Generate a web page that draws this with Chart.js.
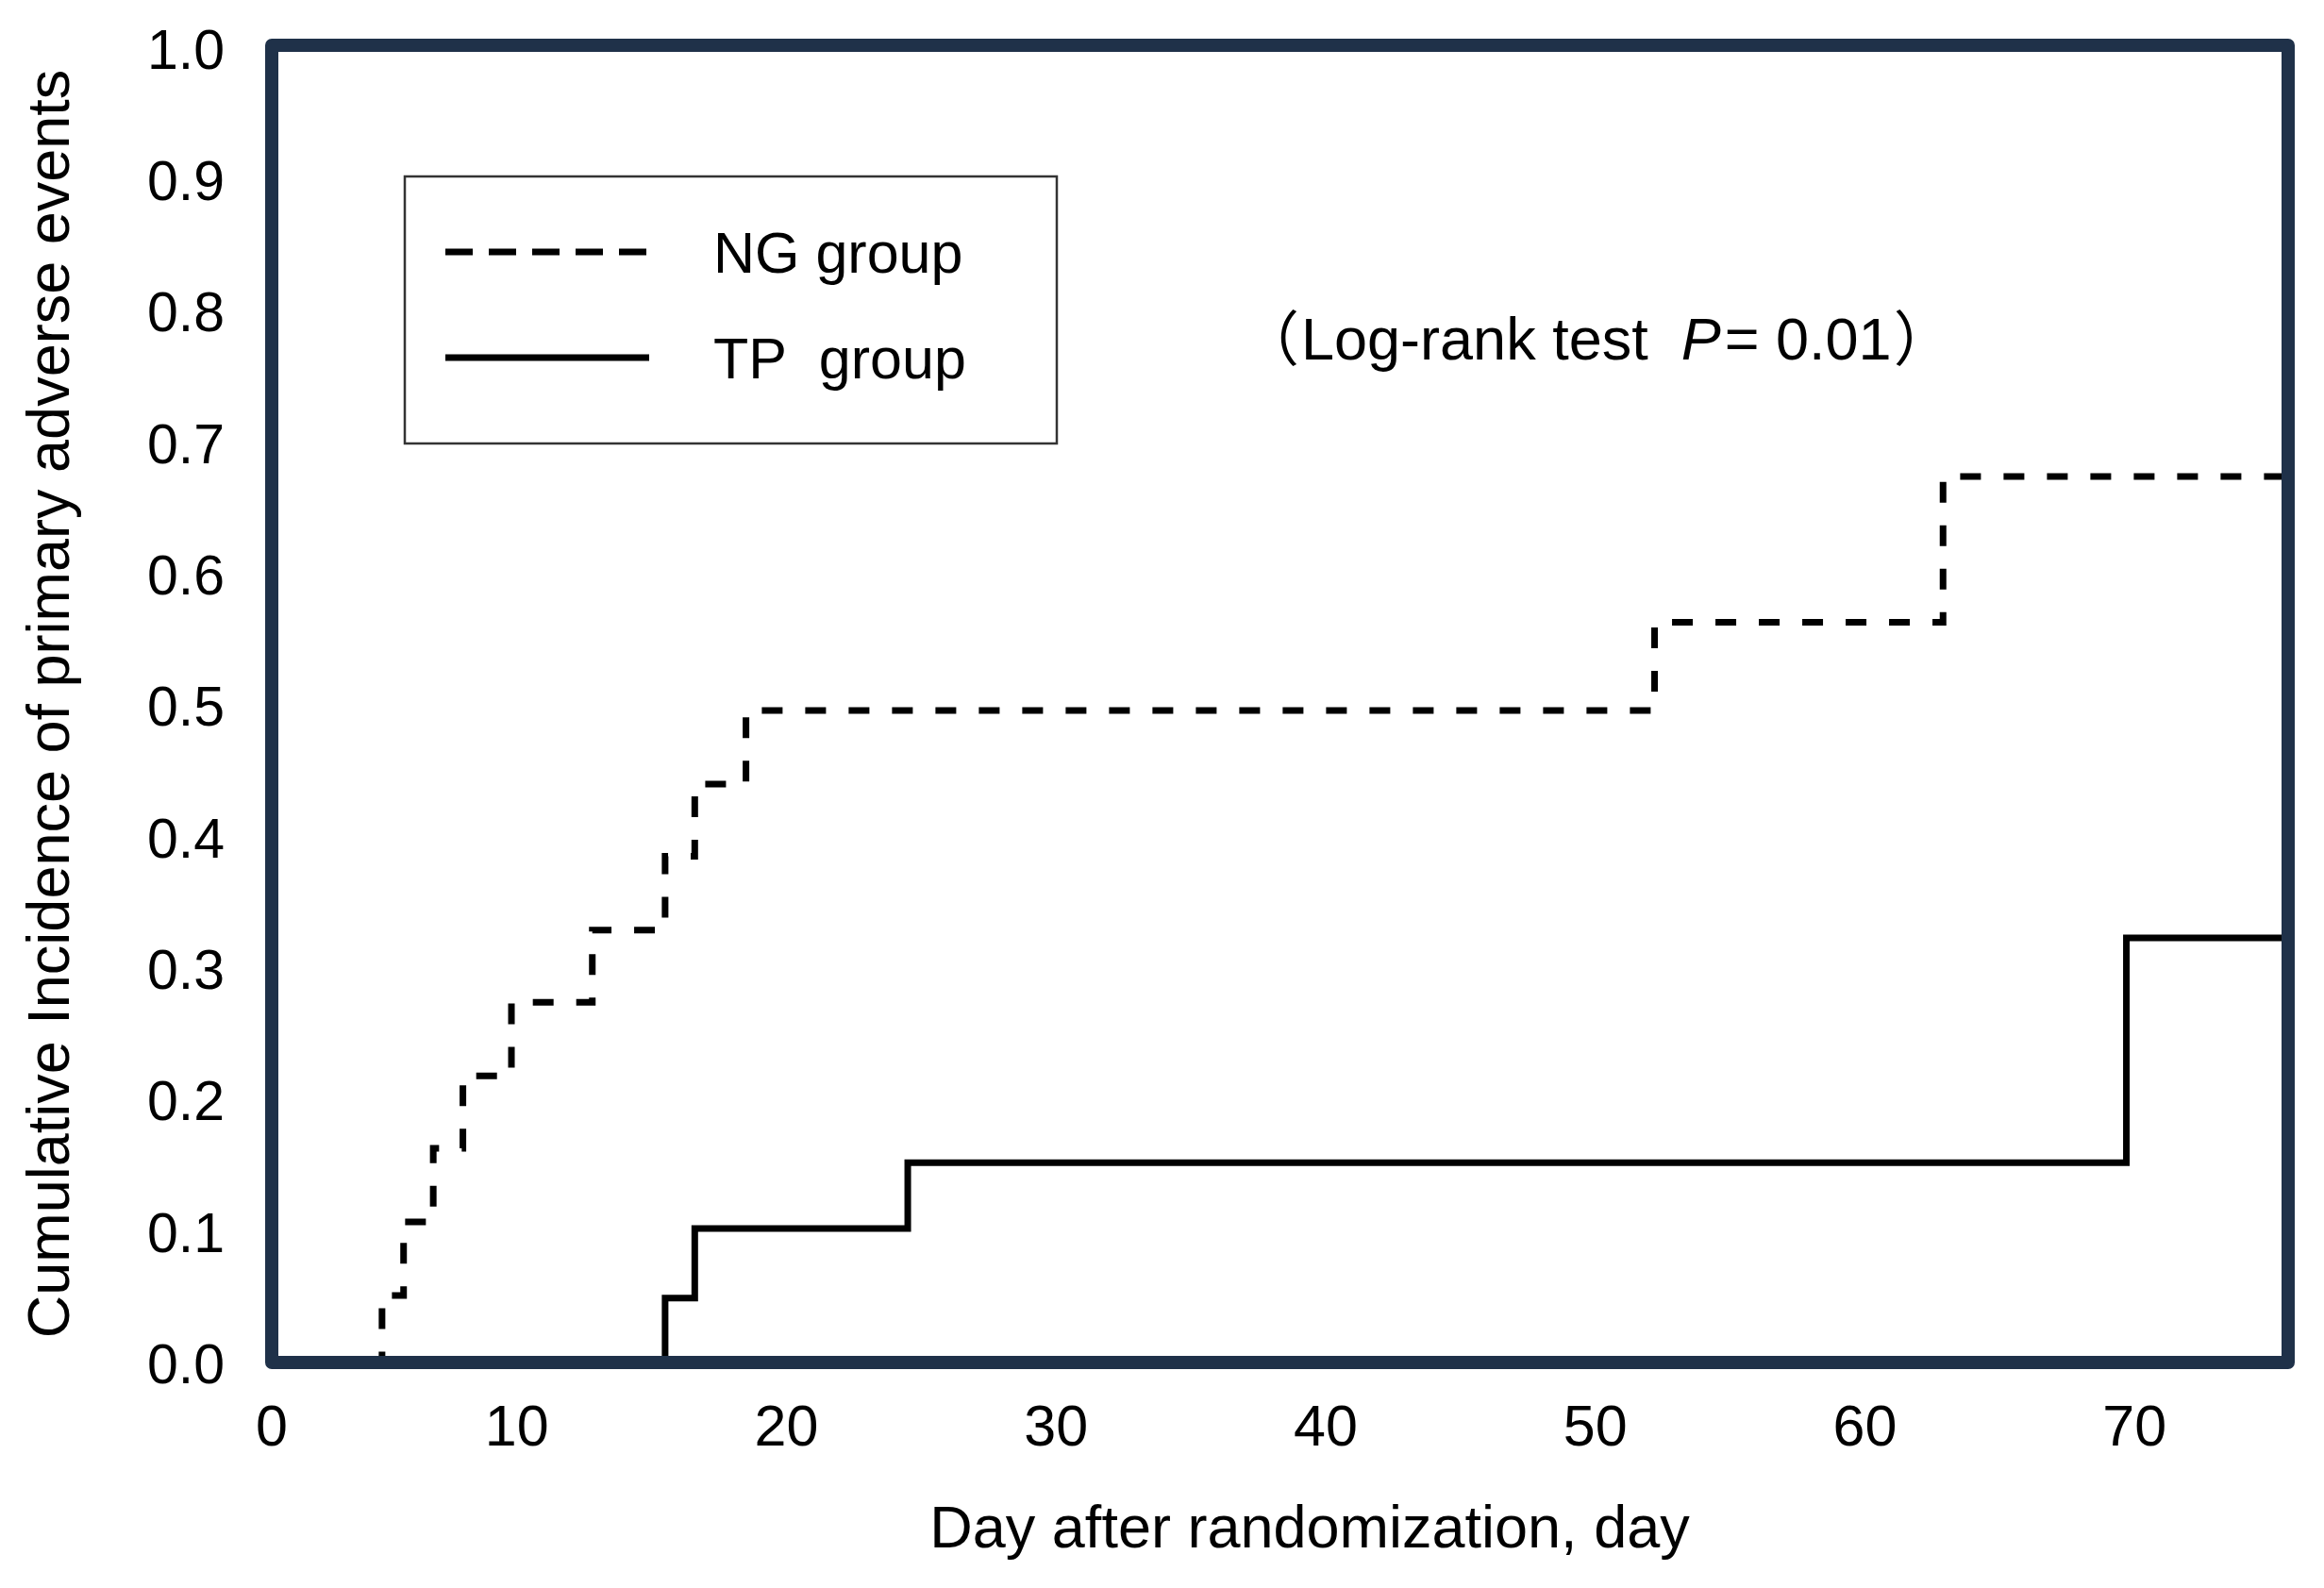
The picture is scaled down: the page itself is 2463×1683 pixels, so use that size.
<!DOCTYPE html>
<html>
<head>
<meta charset="utf-8">
<script src="https://cdn.jsdelivr.net/npm/chart.js@4.4.1/dist/chart.umd.min.js"></script>
<style>
html,body{margin:0;padding:0;background:#fff;}
canvas{display:block;}
</style>
</head>
<body>
<canvas id="c" width="2463" height="1683"></canvas>
<script>
// ---- data ----
const ngDays      = [0, 5.0, 5.8, 6.9, 8.0, 9.8, 12.8, 15.5, 16.6, 18.5, 52.2, 62.9, 75.7];
const ngIncidence = [0, 0.055, 0.111, 0.167, 0.222, 0.278, 0.333, 0.389, 0.444, 0.500, 0.567, 0.678, 0.678];
const tpDays      = [0, 15.5, 16.6, 24.5, 69.7, 75.7];
const tpIncidence = [0, 0.053, 0.106, 0.156, 0.327, 0.327];

const seriesLabels = ['NG group', 'TP  group'];
const xTickValues = [0.91, 10, 20, 30, 40, 50, 60, 70];
const xTickLabels = ['0', '10', '20', '30', '40', '50', '60', '70'];
const yTickValues = [0, 0.1, 0.2, 0.3, 0.4, 0.5, 0.6, 0.7, 0.8, 0.9, 1.0];
const yTickLabels = ['0.0', '0.1', '0.2', '0.3', '0.4', '0.5', '0.6', '0.7', '0.8', '0.9', '1.0'];
const xTitle = 'Day after randomization, day';
const yTitle = 'Cumulative Incidence of primary adverse events';
const noteParts = ['Log-rank test  ', 'P', '= 0.01'];

const FONT = '"Liberation Sans", Arial, sans-serif';
const FRAME = '#1f3149';

const decor = {
  id: 'decor',
  afterDatasetsDraw(chart) {
    const ctx = chart.ctx;
    const a = chart.chartArea;
    ctx.save();
    // frame
    ctx.strokeStyle = FRAME;
    ctx.lineWidth = 14;
    ctx.lineJoin = 'round';
    ctx.strokeRect(a.left, a.top, a.right - a.left, a.bottom - a.top);

    // legend box
    ctx.lineJoin = 'miter';
    ctx.strokeStyle = '#333';
    ctx.lineWidth = 2.5;
    ctx.strokeRect(429, 187, 691, 283);
    const ds = chart.data.datasets;
    const rows = [267, 379];
    ds.forEach((d, i) => {
      ctx.beginPath();
      ctx.strokeStyle = d.borderColor;
      ctx.lineWidth = 7;
      ctx.setLineDash(i === 0 ? [29, 17] : []);
      ctx.moveTo(472, rows[i]);
      ctx.lineTo(688, rows[i]);
      ctx.stroke();
      ctx.setLineDash([]);
      ctx.fillStyle = '#000';
      ctx.font = '61px ' + FONT;
      ctx.textAlign = 'left';
      ctx.textBaseline = 'alphabetic';
      ctx.fillText(d.label, 756, rows[i] + 22);
    });

    // log-rank note
    const base = 381;
    let x = 1379;
    ctx.fillStyle = '#000';
    ctx.textBaseline = 'alphabetic';
    ctx.font = '63px "Noto Sans CJK SC", sans-serif';
    ctx.textAlign = 'right';
    ctx.fillText('\uFF08', x - 2, base);
    ctx.textAlign = 'left';
    ctx.font = '63px ' + FONT;
    ctx.fillText(noteParts[0], x, base);
    x += ctx.measureText(noteParts[0]).width;
    ctx.font = 'italic 63px ' + FONT;
    ctx.fillText(noteParts[1], x, base);
    x += ctx.measureText(noteParts[1]).width + 4;
    ctx.font = '63px ' + FONT;
    ctx.fillText(noteParts[2], x, base);
    x += ctx.measureText(noteParts[2]).width;
    ctx.font = '63px "Noto Sans CJK SC", sans-serif';
    ctx.fillText('\uFF09', x + 2, base);

    // x axis title
    ctx.font = '63px ' + FONT;
    ctx.textAlign = 'center';
    ctx.textBaseline = 'middle';
    ctx.fillText(xTitle, 1388, 1623);
    ctx.restore();
  }
};

new Chart(document.getElementById('c'), {
  type: 'line',
  data: {
    datasets: [
      {
        label: seriesLabels[0],
        data: ngDays.map((d, i) => ({x: d, y: ngIncidence[i]})),
        borderColor: '#000',
        borderWidth: 7,
        borderDash: [22, 24],
        stepped: 'before',
        pointRadius: 0,
        fill: false
      },
      {
        label: seriesLabels[1],
        data: tpDays.map((d, i) => ({x: d, y: tpIncidence[i]})),
        borderColor: '#000',
        borderWidth: 7,
        stepped: 'before',
        pointRadius: 0,
        fill: false
      }
    ]
  },
  options: {
    responsive: false,
    devicePixelRatio: 1,
    animation: false,
    layout: {padding: {top: 48, right: 38, left: 0, bottom: 0}},
    plugins: {legend: {display: false}, tooltip: {enabled: false}},
    scales: {
      x: {
        type: 'linear',
        min: 0.91,
        max: 75.7,
        afterBuildTicks: s => { s.ticks = xTickValues.map(v => ({value: v})); },
        afterFit: s => { s.height = 239; s.paddingLeft = 0; s.paddingRight = 0; },
        grid: {display: false, drawTicks: false},
        border: {display: false},
        ticks: {
          callback: (v, i) => xTickLabels[i],
          font: {family: FONT, size: 61},
          color: '#000',
          padding: 35,
          maxRotation: 0,
          autoSkip: false
        }
      },
      y: {
        type: 'linear',
        min: 0.004,
        max: 1.006,
        afterBuildTicks: s => { s.ticks = yTickValues.map(v => ({value: v})); },
        afterFit: s => { s.width = 288; s.paddingTop = 0; s.paddingBottom = 0; },
        grid: {display: false, drawTicks: false},
        border: {display: false},
        ticks: {
          callback: (v, i) => yTickLabels[i],
          font: {family: FONT, size: 59},
          color: '#000',
          padding: 50,
          autoSkip: false
        },
        title: {
          display: true,
          text: yTitle,
          font: {family: FONT, size: 63},
          color: '#000',
          padding: {top: 18, bottom: 0}
        }
      }
    }
  },
  plugins: [decor]
});
</script>
</body>
</html>
